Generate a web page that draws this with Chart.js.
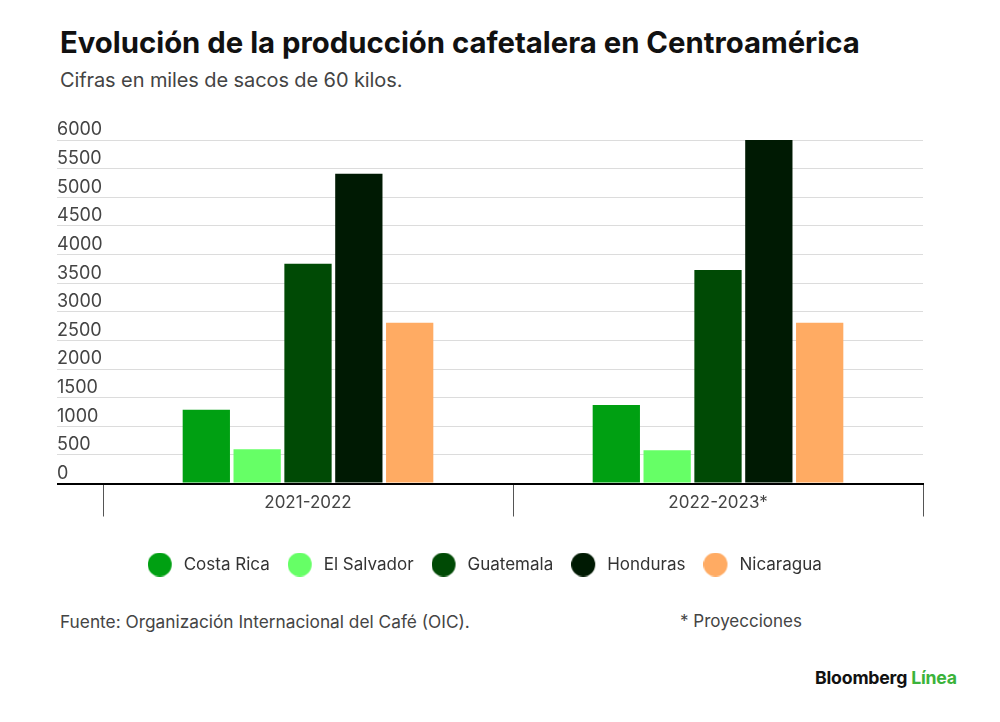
<!DOCTYPE html>
<html lang="es">
<head>
<meta charset="utf-8">
<title>Evolución de la producción cafetalera en Centroamérica</title>
<script src="https://cdn.jsdelivr.net/npm/chart.js@4.4.1/dist/chart.umd.min.js"></script>
<style>
    body { margin: 0; background: #fff; font-family: Inter, "Noto Sans", sans-serif; }
    .page { position: relative; width: 1000px; height: 722px; overflow: hidden; background: #fff; }
    .title { position: absolute; left: 60px; top: 25px; font-size: 29.3px; font-weight: 700; color: #111; }
    .subtitle { position: absolute; left: 60px; top: 68px; font-size: 20px; color: #444; letter-spacing: -0.1px; }
    .chartBox { position: absolute; left: 0; top: 110px; width: 1000px; height: 480px; }
    .source { position: absolute; left: 60px; top: 611px; font-size: 17.3px; color: #444; }
    .note { position: absolute; left: 680px; top: 611px; font-size: 17px; color: #444; }
    .brand { position: absolute; left: 815px; top: 667px; font-size: 17.7px; font-weight: 700; color: #111; letter-spacing: -0.2px; }
    .brand span { color: #3bb33b; }
</style>
</head>
<body>
<div class="page">
    <div class="title">Evolución de la producción cafetalera en Centroamérica</div>
    <div class="subtitle">Cifras en miles de sacos de 60 kilos.</div>
    <div class="chartBox"><canvas id="coffeeChart"></canvas></div>
    <div class="source">Fuente: Organización Internacional del Café (OIC).</div>
    <div class="note">* Proyecciones</div>
    <div class="brand">Bloomberg <span>Línea</span></div>
</div>

<script>
// Chart data (miles de sacos de 60 kg)
const seasons = ['2021-2022', '2022-2023*'];
const countries = ['Costa Rica', 'El Salvador', 'Guatemala', 'Honduras', 'Nicaragua'];
const costaRica = [1290, 1370];
const elSalvador = [600, 580];
const guatemala = [3840, 3730];
const honduras = [5410, 6000];
const nicaragua = [2810, 2810];
const yTicks = [0, 500, 1000, 1500, 2000, 2500, 3000, 3500, 4000, 4500, 5000, 5500, 6000];

const seriesValues = [costaRica, elSalvador, guatemala, honduras, nicaragua];
const seriesColors = ['#00a012', '#66ff66', '#004a05', '#001a03', '#ffab63'];

document.addEventListener('DOMContentLoaded', function() {
    initializeCoffeeChart();
});

// Legend dot: circle sits on the left of a wider transparent image,
// so there is some room between the dot and the label text
function makeLegendDot(color) {
    const c = document.createElement('canvas');
    c.width = 38;
    c.height = 24;
    const g = c.getContext('2d');
    g.fillStyle = color;
    g.beginPath();
    g.arc(12, 12, 12, 0, Math.PI * 2);
    g.fill();
    return c;
}

// Build the grouped bar chart
function initializeCoffeeChart() {
    const ctx = document.getElementById('coffeeChart').getContext('2d');
    const legendDots = seriesColors.map(makeLegendDot);

    const datasets = countries.map((name, i) => ({
        label: name,
        data: seriesValues[i],
        backgroundColor: seriesColors[i],
        borderWidth: 0,
        barPercentage: 0.93,
        categoryPercentage: 0.62
    }));

    new Chart(ctx, {
        type: 'bar',
        data: {
            labels: seasons,
            datasets: datasets
        },
        options: {
            responsive: true,
            maintainAspectRatio: false,
            animation: false,
            layout: {
                padding: { left: 57, right: 77, top: 30, bottom: 7 }
            },
            plugins: {
                tooltip: { enabled: false },
                legend: {
                    position: 'bottom',
                    labels: {
                        usePointStyle: true,
                        color: '#333',
                        padding: 28.5,
                        font: { family: 'Inter', size: 17 },
                        generateLabels: function(chart) {
                            const items = Chart.defaults.plugins.legend.labels.generateLabels(chart);
                            items.forEach((item, i) => { item.pointStyle = legendDots[i]; });
                            return items;
                        }
                    }
                }
            },
            scales: {
                x: {
                    grid: {
                        offset: true,
                        drawOnChartArea: false,
                        drawTicks: true,
                        tickLength: 33,
                        color: '#555',
                        lineWidth: 1
                    },
                    border: { display: true, color: '#000', width: 2 },
                    ticks: {
                        padding: -24,
                        color: '#444',
                        font: { family: 'Inter', size: 17 }
                    },
                    afterFit: function(scale) { scale.height = 44; }
                },
                y: {
                    min: 0,
                    max: 6000,
                    afterBuildTicks: function(scale) {
                        scale.ticks = yTicks.map(v => ({ value: v }));
                    },
                    ticks: {
                        crossAlign: 'far',
                        labelOffset: -10,
                        padding: 0,
                        color: '#444',
                        font: { family: 'Inter', size: 18 },
                        callback: v => String(v)
                    },
                    grid: {
                        drawTicks: true,
                        tickLength: 46,
                        color: c => (c.tick && c.tick.value === 0) ? '#000' : '#dcdcdc',
                        lineWidth: c => (c.tick && c.tick.value === 0) ? 2 : 1
                    },
                    border: { display: false },
                    afterFit: function(scale) { scale.width = 46; }
                }
            }
        }
    });
}
</script>
</body>
</html>
